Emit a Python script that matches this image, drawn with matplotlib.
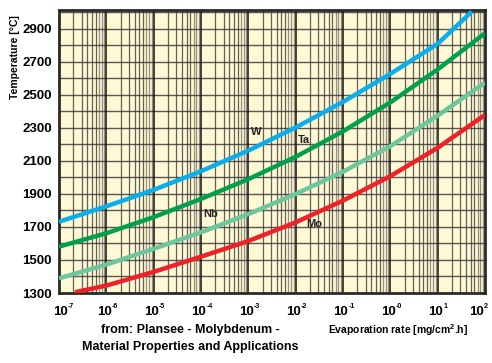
import numpy as np
import matplotlib.pyplot as plt
from matplotlib.transforms import offset_copy

plt.rcParams["font.family"] = ["Liberation Sans", "DejaVu Sans"]
plt.rcParams["mathtext.fontset"] = "custom"
plt.rcParams["mathtext.rm"] = "Liberation Sans:bold"
plt.rcParams["mathtext.bf"] = "Liberation Sans:bold"

# evaporation rate decades (log10 mg/cm2.h) and temperatures
W_rate = [-7, -6, -5, -4, -3, -2, -1, 0, 1, 1.72]
W_temp = [1732, 1825, 1925, 2038, 2163, 2303, 2458, 2628, 2810, 3005]

Ta_rate = [-7, -6, -5, -4, -3, -2, -1, 0, 1, 2]
Ta_temp = [1581, 1662, 1760, 1870, 1990, 2125, 2280, 2455, 2655, 2874]

Nb_rate = [-7, -6, -5, -4, -3, -2, -1, 0, 1, 2]
Nb_temp = [1389, 1472, 1568, 1668, 1778, 1900, 2035, 2190, 2375, 2575]

Mo_rate = [-6.66, -6, -5, -4, -3, -2, -1, 0, 1, 2]
Mo_temp = [1305, 1345, 1428, 1520, 1615, 1728, 1860, 2008, 2180, 2379]

x_tick_exp = [-7, -6, -5, -4, -3, -2, -1, 0, 1, 2]
x_tick_sup = ["-7", "-6", "-5", "-4", "-3", "-2", "-1", "-0", "1", "2"]
y_ticks = [1300, 1500, 1700, 1900, 2100, 2300, 2500, 2700, 2900]

curves = [
    ("W", W_rate, W_temp, "#0AAEEA"),
    ("Ta", Ta_rate, Ta_temp, "#00A04E"),
    ("Nb", Nb_rate, Nb_temp, "#6EC79C"),
    ("Mo", Mo_rate, Mo_temp, "#EE2028"),
]

fig = plt.figure(figsize=(4.92, 3.63), dpi=100)
ax = fig.add_axes([59 / 492, 70 / 363, 426 / 492, 283 / 363])
ax.set_facecolor("#FFF8D4")
ax.set_xscale("log")
ax.set_xlim(1e-7, 1e2)
ax.set_ylim(1300, 3015)

# grid: every 100 degC, log minor lines
for t in range(1400, 3001, 100):
    ax.axhline(t, color="#3c3c3c", lw=1.0, alpha=0.85, zorder=1)
for e in range(-7, 2):
    for m in range(2, 10):
        ax.axvline(m * 10.0 ** e, color="#3c3c3c", lw=0.9,
                   alpha=0.55 if m >= 7 else 0.8, zorder=1)
    if e > -7:
        ax.axvline(10.0 ** e, color="#111111", lw=1.1, zorder=1)

for name, rate, temp, col in curves:
    ax.plot(10.0 ** np.array(rate), temp, color=col, lw=3.2,
            solid_capstyle="butt", solid_joinstyle="round", zorder=3)

lab_kw = dict(fontsize=8, fontweight="bold", color="#222222", zorder=4)
ax.text(10 ** -2.95, 2258, "W", **lab_kw)
ax.text(10 ** -1.95, 2212, "Ta", **lab_kw)
ax.text(10 ** -3.95, 1758, "Nb", **lab_kw)
ax.text(10 ** -1.78, 1702, "Mo", **lab_kw)

# x tick labels drawn as "10" with a tiny superscript, like the original
ax.set_xticks([])
xtr = ax.get_xaxis_transform()
for i, (e, sup) in enumerate(zip(x_tick_exp, x_tick_sup)):
    dx = 1 if i == 0 else (-9 if i == len(x_tick_exp) - 1 else -2)
    t10 = offset_copy(xtr, fig=fig, x=dx, y=-22, units="dots")
    ax.text(10.0 ** e, 0, "10", transform=t10, ha="center", va="baseline",
            fontsize=9.5, fontweight="bold", clip_on=False)
    tsup = offset_copy(xtr, fig=fig, x=dx + 7.5, y=-15, units="dots")
    ax.text(10.0 ** e, 0, sup, transform=tsup, ha="left", va="baseline",
            fontsize=5, fontweight="bold", clip_on=False)

ax.set_yticks(y_ticks)
ax.set_yticklabels([str(v) for v in y_ticks])
ax.tick_params(axis="both", length=0, labelsize=9.5, pad=5)
for lbl in ax.get_yticklabels():
    lbl.set_fontweight("bold")

for s in ax.spines.values():
    s.set_color("#2a2a2a")
    s.set_linewidth(2)

fig.text(15 / 492, 1 - 57 / 363, "Temperature [°C]", rotation=90,
         ha="center", va="center", fontsize=7.5, fontweight="bold")
fig.text(190 / 492, 1 - 330 / 363, "from: Plansee - Molybdenum -",
         ha="center", va="center", fontsize=9, fontweight="bold")
fig.text(190 / 492, 1 - 347 / 363, "Material Properties and Applications",
         ha="center", va="center", fontsize=9, fontweight="bold")
fig.text(398 / 492, 1 - 330 / 363, "Evaporation rate [mg/cm$^{2}$.h]",
         ha="center", va="center", fontsize=7.5, fontweight="bold")

fig.savefig("out.png", dpi=100)
